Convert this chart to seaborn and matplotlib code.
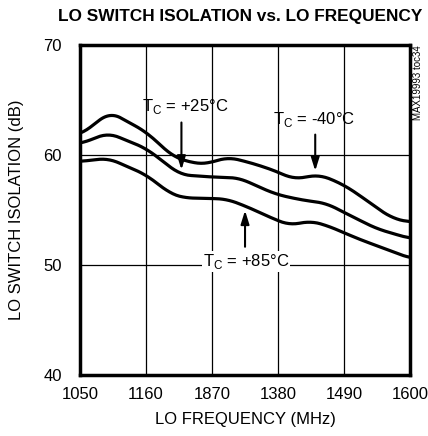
import numpy as np
import pandas as pd
import matplotlib
matplotlib.use("Agg")
import matplotlib.pyplot as plt
import seaborn as sns

# LO frequency (MHz) and switch isolation (dB)
freq_m40 = [1050, 1100, 1160, 1206, 1244, 1261, 1297, 1340, 1378, 1405, 1450, 1489, 1522, 1544, 1572, 1600]
iso_m40 = [61.8, 63.9, 62.1, 59.8, 59.2, 59.2, 59.8, 59.2, 58.5, 57.8, 58.2, 57.3, 56.1, 55.2, 54.2, 53.9]

freq_p25 = [1050, 1097, 1160, 1217, 1267, 1317, 1339, 1378, 1420, 1461, 1489, 1544, 1600]
iso_p25 = [61.0, 62.0, 60.6, 58.2, 58.0, 57.9, 57.3, 56.4, 55.9, 55.6, 54.8, 53.3, 52.4]

freq_p85 = [1050, 1097, 1160, 1200, 1222, 1294, 1328, 1372, 1400, 1433, 1461, 1517, 1572, 1600]
iso_p85 = [59.4, 59.7, 58.2, 56.5, 56.1, 56.0, 55.3, 54.2, 53.6, 54.0, 53.6, 52.3, 51.2, 50.6]

xticks = [1050, 1160, 1270, 1380, 1490, 1600]
xticklabels = ["1050", "1160", "1870", "1380", "1490", "1600"]
yticks = [40, 50, 60, 70]

sns.set_style("white")
plt.rcParams['font.family'] = ['Liberation Sans Narrow', 'DejaVu Sans Condensed', 'Liberation Sans']
for k in ['text.color', 'axes.labelcolor', 'xtick.color', 'ytick.color']:
    plt.rcParams[k] = 'black'

df = pd.concat([
    pd.DataFrame({'freq': freq_m40, 'iso': iso_m40, 'temp': '-40'}),
    pd.DataFrame({'freq': freq_p25, 'iso': iso_p25, 'temp': '+25'}),
    pd.DataFrame({'freq': freq_p85, 'iso': iso_p85, 'temp': '+85'}),
])

fig = plt.figure(figsize=(4.28, 4.36), dpi=100)
ax = fig.add_axes([0.187, 0.140, 0.771, 0.757])

# smooth each curve a bit so it looks like the scanned trace
for t, g in df.groupby('temp', sort=False):
    xs = np.linspace(1050, 1600, 200)
    ys = np.interp(xs, g['freq'], g['iso'])
    ys = np.convolve(np.pad(ys, 6, mode='edge'), np.ones(13) / 13, mode='valid')
    sns.lineplot(x=xs, y=ys, ax=ax, color='black', lw=2.3, legend=False)

ax.set_xlim(1050, 1600)
ax.set_ylim(40, 70)
ax.set_xticks(xticks)
ax.set_xticklabels(xticklabels)
ax.set_yticks(yticks)
ax.grid(True, color='black', lw=0.9)
for s in ax.spines.values():
    s.set_linewidth(2.5)
    s.set_color('black')
ax.tick_params(length=0, labelsize=12)
ax.tick_params(axis='x', pad=9)
ax.tick_params(axis='y', pad=13)
ax.set_xlabel('LO FREQUENCY (MHz)', fontsize=12, labelpad=7)
ax.set_ylabel('LO SWITCH ISOLATION (dB)', fontsize=12, labelpad=14)

# annotations
arrow = dict(arrowstyle='-|>,head_length=0.8,head_width=0.25', color='black', lw=1.5)
ax.text(1225, 64.4, r'T$_\mathregular{C}$ = +25°C', fontsize=12, ha='center', va='center')
ax.annotate('', xy=(1219, 58.4), xytext=(1219, 63.2), arrowprops=arrow)
ax.text(1440, 63.2, r'T$_\mathregular{C}$ = -40°C', fontsize=12, ha='center', va='center')
ax.annotate('', xy=(1442, 58.3), xytext=(1442, 62.1), arrowprops=arrow)
ax.text(1327, 50.3, r'T$_\mathregular{C}$ = +85°C', fontsize=12, ha='center', va='center',
        bbox=dict(facecolor='white', edgecolor='none', pad=0.5))
ax.annotate('', xy=(1325, 55.2), xytext=(1325, 51.4), arrowprops=arrow)

fig.text(0.988, 0.963, 'LO SWITCH ISOLATION vs. LO FREQUENCY', fontsize=12.4,
         fontweight='bold', ha='right', va='center')
fig.text(0.977, 0.897, 'MAX19993 toc34', fontsize=7, rotation=90, ha='center', va='top')

fig.savefig('out.png', dpi=100)
